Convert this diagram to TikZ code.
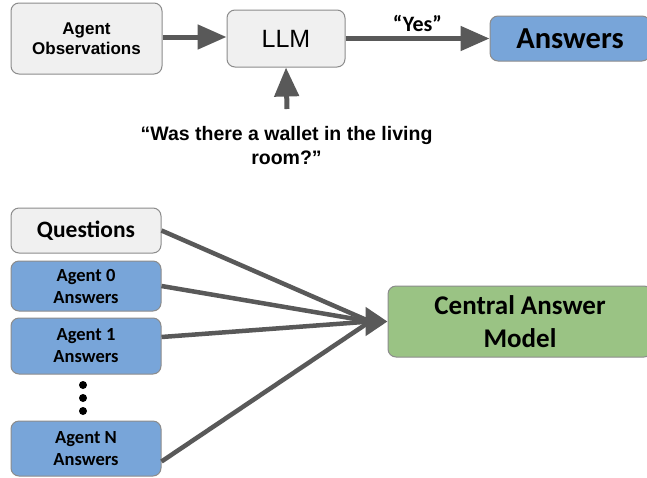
\documentclass[tikz,border=0pt]{standalone}
\usepackage{fontspec}
\setmainfont{Liberation Sans}
\newfontfamily\calib{Carlito}
\usetikzlibrary{arrows.meta}
\definecolor{boxgray}{HTML}{F0F0F0}
\definecolor{boxblue}{HTML}{78A5D9}
\definecolor{boxgreen}{HTML}{9AC384}
\definecolor{edgegray}{HTML}{8C8C8C}
\definecolor{arrgray}{HTML}{595959}
\tikzset{
  box/.style={draw=edgegray, line width=1pt, rounded corners=8pt, inner sep=0pt, align=center},
  graybox/.style={box, fill=boxgray},
  bluebox/.style={box, fill=boxblue},
  greenbox/.style={box, fill=boxgreen},
  arr/.style={draw=arrgray, line width=5pt, -{Triangle[length=29pt,width=24pt]}},
  ln/.style={draw=arrgray, line width=4.5pt},
}
\begin{document}
\begin{tikzpicture}[x=1pt,y=-1pt]
\useasboundingbox (0,0) rectangle (647,477);
\clip (0,0) rectangle (647,477);
\fill[white] (0,0) rectangle (647,477);
% top row
\node[graybox, minimum width=151pt, minimum height=71pt, font=\fontsize{17}{20}\selectfont\bfseries] (obs) at (86.5,38.5) {Agent\\Observations};
\node[graybox, minimum width=118pt, minimum height=57pt, font=\fontsize{25}{28}\selectfont] (llm) at (286,38.5) {LLM};
\node[bluebox, minimum width=160pt, minimum height=45pt, font=\fontsize{30.5}{32}\calib\bfseries] (ans) at (570,38.5) {Answers};
\draw[arr] ([yshift=1.5pt]obs.east) -- ([yshift=1.5pt]llm.west);
\draw[arr] (llm.east) -- node[above=1.5pt, font=\fontsize{22}{24}\calib\bfseries, text=black] (yes) {“Yes”} (ans.west);
\node[font=\fontsize{19.5}{24}\selectfont\bfseries, align=center] (qtext) at (286.5,146) {“Was there a wallet in the living\\room?”};
\coordinate (qtop) at (287,109);
\draw[arr] (qtop) -- (llm.south);
% bottom
\node[graybox, minimum width=150pt, minimum height=45pt, font=\fontsize{23.5}{26}\calib\bfseries] (q) at (86,230.5) {Questions};
\node[bluebox, minimum width=150pt, minimum height=50pt, font=\fontsize{18.5}{22}\calib\bfseries] (a0) at (86,286) {Agent 0\\Answers};
\node[bluebox, minimum width=150pt, minimum height=56pt, font=\fontsize{18.5}{22}\calib\bfseries] (a1) at (86,346) {Agent 1\\Answers};
\node[bluebox, minimum width=150pt, minimum height=55pt, font=\fontsize{18.5}{22}\calib\bfseries] (aN) at (86,448.5) {Agent N\\Answers};
\node[greenbox, minimum width=264pt, minimum height=71pt, font=\fontsize{27}{33}\calib\bfseries] (cam) at (520,321.5) {Central Answer\\Model};
\foreach \yy in {385,398,411} \fill[black] (83,\yy) circle (4pt);
\coordinate (conv) at (370,321.5);
\draw[ln] (q.east) -- (conv);
\draw[ln] (a0.east) -- (conv);
\draw[ln] ([yshift=9pt]a1.east) -- (conv);
\draw[ln] ([yshift=-13pt]aN.east) -- (conv);
\draw[draw=arrgray, line width=5pt, -{Triangle[length=22pt,width=28pt]}] ([xshift=-4pt]conv) -- (cam.west);
\end{tikzpicture}
\end{document}
